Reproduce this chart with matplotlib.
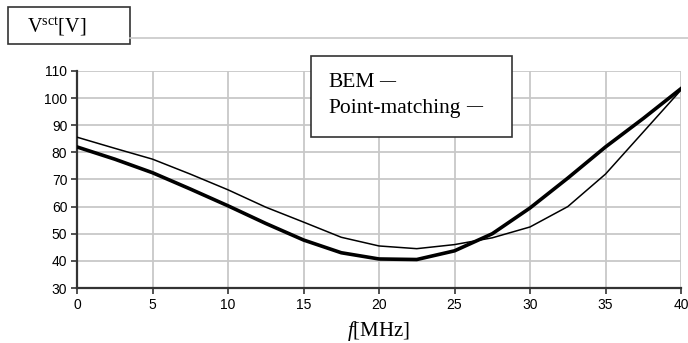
import matplotlib
matplotlib.use('Agg')
import matplotlib.pyplot as plt
from matplotlib.patches import Rectangle
from matplotlib.lines import Line2D

freq = [0, 2.5, 5, 7.5, 10, 12.5, 15, 17.5, 20, 22.5, 25, 27.5, 30, 32.5, 35, 37.5, 40]
bem = [82, 77.5, 72.5, 66.5, 60.3, 53.8, 47.7, 43, 40.7, 40.5, 43.7, 50, 59.5, 70.5, 82, 92.5, 103.5]
point_matching = [85.6, 81.5, 77.5, 72, 66.2, 59.8, 54.3, 48.7, 45.5, 44.5, 46, 48.5, 52.5, 60, 72, 87.5, 103]
xticks = list(range(0, 45, 5))
yticks = list(range(30, 120, 10))

plt.rcParams['mathtext.fontset'] = 'custom'
plt.rcParams['mathtext.rm'] = 'Liberation Serif'
plt.rcParams['mathtext.it'] = 'Liberation Serif:italic'

W, H = 688, 343
fig = plt.figure(figsize=(W / 100, H / 100), dpi=100)
ax = fig.add_axes([77 / W, 1 - 288 / H, (681 - 77) / W, (288 - 71) / H])

ax.plot(freq, point_matching, color='black', lw=1.1, zorder=3)
ax.plot(freq, bem, color='black', lw=2.6, zorder=4)

ax.set_xlim(0, 40)
ax.set_ylim(30, 110)
ax.set_xticks(xticks)
ax.set_yticks(yticks)
ax.grid(True, color='#c8c8c8', lw=1.3)
ax.set_axisbelow(True)
for s in ['top', 'right']:
    ax.spines[s].set_visible(False)
for s in ['left', 'bottom']:
    ax.spines[s].set_color('#333333')
    ax.spines[s].set_linewidth(1.6)
ax.tick_params(length=4, width=1.2, color='#333333', labelsize=10, pad=3)
for lab in ax.get_xticklabels() + ax.get_yticklabels():
    lab.set_fontfamily('Liberation Sans')

ax.set_xlabel('$\\mathit{f}$[MHz]', fontsize=15, family='Liberation Serif', labelpad=5)

# y-axis label box and rule
fig.patches.append(Rectangle((8 / W, 1 - 44 / H), 122 / W, 37 / H, transform=fig.transFigure,
                             fill=False, ec='#333333', lw=1.2))
fig.lines.append(Line2D([130 / W, 1], [1 - 38 / H, 1 - 38 / H], transform=fig.transFigure,
                        color='#c8c8c8', lw=1.2))
fig.text(27 / W, 1 - 27 / H, 'V$^{\\mathrm{sct}}$[V]', fontsize=14.5, family='Liberation Serif',
         va='center', ha='left')

# legend box
fig.patches.append(Rectangle((311 / W, 1 - 137 / H), 201 / W, 81 / H, transform=fig.transFigure,
                             fc='white', ec='#333333', lw=1.2, zorder=5))
fig.text(328 / W, 1 - 87 / H, 'BEM', fontsize=15.5, family='Liberation Serif',
         va='baseline', ha='left', zorder=6)
fig.text(379 / W, 1 - 81 / H, '\u2014', fontsize=11.5, family='Liberation Serif',
         fontweight='bold', va='center', ha='left', zorder=6)
fig.text(328 / W, 1 - 113 / H, 'Point-matching', fontsize=15.5, family='Liberation Serif',
         va='baseline', ha='left', zorder=6)
fig.text(466 / W, 1 - 106 / H, '\u2014', fontsize=11.5, family='Liberation Serif',
         fontweight='bold', va='center', ha='left', zorder=6)

fig.savefig('out.png', dpi=100)
